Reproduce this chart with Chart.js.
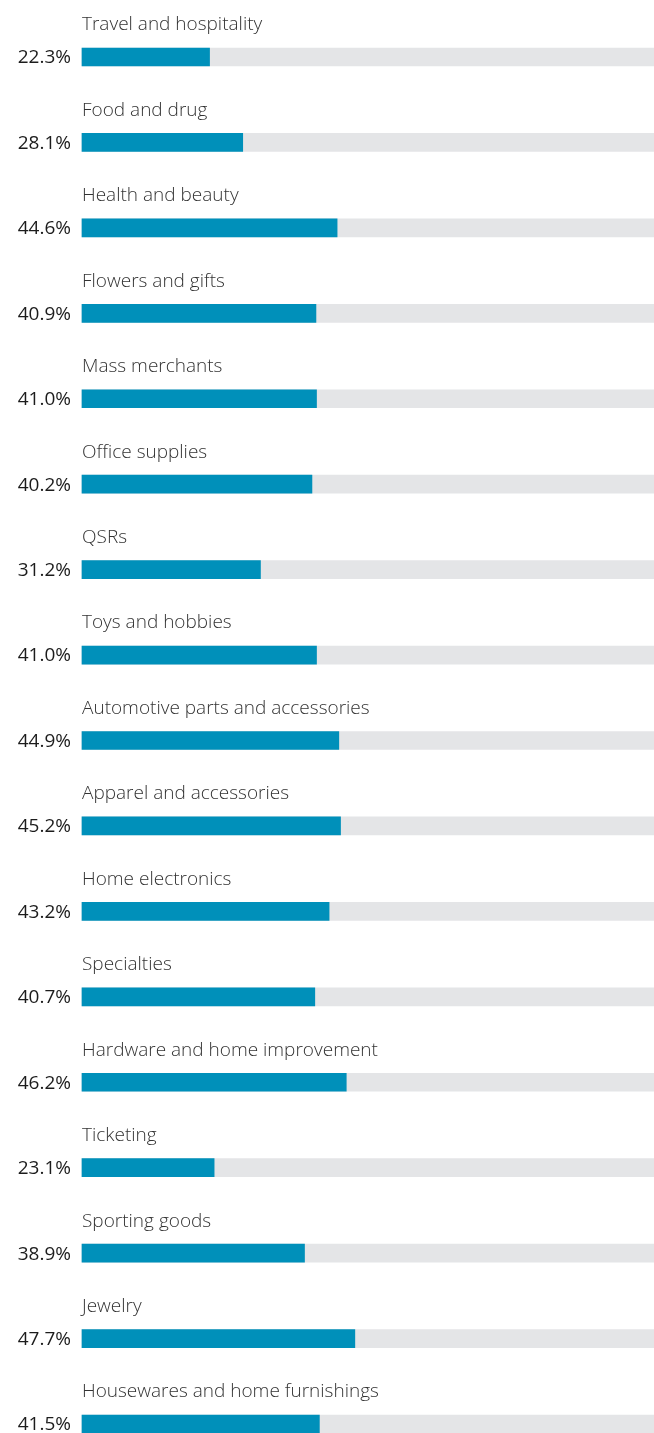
<!DOCTYPE html>
<html>
<head>
<meta charset="utf-8">
<script src="https://cdn.jsdelivr.net/npm/chart.js@4.4.0/dist/chart.umd.min.js"></script>
<style>
  html, body { margin: 0; padding: 0; background: #fff; overflow: hidden; }
  #wrap { position: relative; width: 654px; height: 1433px; }
</style>
</head>
<body>
<div id="wrap"><canvas id="myCanvas"></canvas></div>
<script>
var categories = [
    'Travel and hospitality', 'Food and drug', 'Health and beauty', 'Flowers and gifts',
    'Mass merchants', 'Office supplies', 'QSRs', 'Toys and hobbies',
    'Automotive parts and accessories', 'Apparel and accessories', 'Home electronics',
    'Specialties', 'Hardware and home improvement', 'Ticketing', 'Sporting goods',
    'Jewelry', 'Housewares and home furnishings'
];
var shares = [22.3, 28.1, 44.6, 40.9, 41.0, 40.2, 31.2, 41.0, 44.9, 45.2, 43.2, 40.7, 46.2, 23.1, 38.9, 47.7, 41.5];
var full = categories.map(function () { return 100; });

// draws the category name above each bar and the percentage to its left
var barLabels = {
    id: 'barLabels',
    afterDatasetsDraw: function (chart) {
        var ctx = chart.ctx;
        var meta = chart.getDatasetMeta(1);
        var left = chart.chartArea.left;
        ctx.save();
        ctx.textBaseline = 'middle';
        for (var i = 0; i < meta.data.length; i++) {
            var y = meta.data[i].y;
            ctx.font = '300 19px "Open Sans"';
            ctx.fillStyle = '#333';
            ctx.textAlign = 'left';
            ctx.fillText(categories[i], left, y - 32);
            ctx.font = '400 19px "Open Sans"';
            ctx.fillStyle = '#1c1c1c';
            ctx.textAlign = 'right';
            ctx.fillText(shares[i].toFixed(1) + '%', left - 11, y + 1);
        }
        ctx.restore();
    }
};

var ctx = document.getElementById('myCanvas').getContext('2d');
var chart = new Chart(ctx, {
    type: 'bar',
    data: {
        labels: categories,
        datasets: [{
            data: full,
            backgroundColor: '#e4e5e7',
            barThickness: 18,
            order: 2,
            clip: false
        }, {
            data: shares,
            backgroundColor: '#0090ba',
            barThickness: 18,
            order: 1,
            clip: false
        }]
    },
    options: {
        indexAxis: 'y',
        responsive: true,
        maintainAspectRatio: false,
        animation: false,
        layout: { padding: { top: 57, bottom: 9, left: 82, right: 0 } },
        datasets: { bar: { grouped: false } },
        scales: {
            x: { display: false, min: 0, max: 100 },
            y: { display: false, offset: false }
        },
        plugins: {
            legend: { display: false },
            tooltip: { enabled: false }
        }
    },
    plugins: [barLabels]
});
</script>
</body>
</html>
